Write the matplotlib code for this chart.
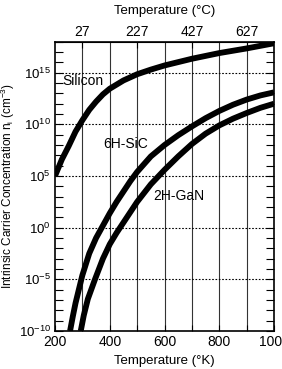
import matplotlib.pyplot as plt
import matplotlib.ticker as mticker
import numpy as np

plt.rcParams['font.family'] = ['Liberation Sans', 'DejaVu Sans']
plt.rcParams['mathtext.fontset'] = 'custom'
plt.rcParams['mathtext.rm'] = 'Liberation Sans'

# log10 of intrinsic carrier concentration
si_T = [200, 225, 250, 275, 300, 325, 350, 375, 400, 450, 500, 550, 600, 700, 800, 900, 1000]
si_log = [5.0, 6.6, 7.9, 9.3, 10.4, 11.4, 12.2, 12.9, 13.45, 14.25, 14.85, 15.3, 15.7,
          16.35, 16.9, 17.35, 17.85]

sic_T = [255, 265, 275, 287, 300, 325, 350, 375, 400, 425, 450, 475, 500, 550, 600,
         650, 700, 750, 800, 850, 900, 950, 1000]
sic_log = [-10.0, -8.6, -7.3, -6.0, -4.6, -2.5, -1.0, 0.2, 1.4, 2.5, 3.5, 4.5, 5.4, 6.9, 8.0,
           8.95, 9.8, 10.6, 11.3, 11.9, 12.4, 12.8, 13.1]

gan_T = [294, 305, 320, 346, 375, 400, 425, 450, 500, 550, 600, 650, 700, 750, 800,
         850, 900, 950, 1000]
gan_log = [-10.0, -8.5, -6.9, -5.0, -3.0, -1.6, -0.5, 0.5, 2.5, 4.2, 5.6, 6.9, 8.1, 9.1, 9.9,
           10.55, 11.1, 11.6, 12.0]

celsius_ticks = [27, 227, 427, 627]

fig = plt.figure(figsize=(2.82, 3.69), dpi=100)
ax = fig.add_axes([0.195, 0.103, 0.777, 0.784])

for T, lg in [(si_T, si_log), (sic_T, sic_log), (gan_T, gan_log)]:
    ax.plot(T, 10.0 ** np.array(lg), color='black', lw=4.2,
            solid_capstyle='butt', solid_joinstyle='round')

ax.set_yscale('log')
ax.set_xlim(200, 1000)
ax.set_ylim(1e-10, 1e18)

ax.set_xticks([200, 400, 600, 800, 1000], labels=['200', '400', '600', '800', '1000'])
ax.set_xticks(np.arange(300, 1000, 200), minor=True)

ax.set_yticks([10.0 ** p for p in range(-10, 16, 5)],
              labels=[r'$\mathregular{10^{%d}}$' % p for p in range(-10, 16, 5)])
ax.yaxis.set_minor_locator(mticker.LogLocator(base=10, subs=(1.0,), numticks=40))
ax.yaxis.set_minor_formatter(mticker.NullFormatter())

ax.tick_params(axis='both', which='both', direction='in', pad=3)
ax.tick_params(axis='x', labelsize=10)
ax.tick_params(axis='y', labelsize=9.5)
ax.tick_params(axis='y', which='both', length=6, width=0.8, left=True, right=True)
ax.tick_params(axis='x', which='both', length=4, width=0.8, top=False)

for T in range(300, 1000, 100):
    ax.axvline(T, color='#333333', lw=0.8, zorder=0)
for p in range(-5, 16, 5):
    ax.axhline(10.0 ** p, color='black', lw=0.8, ls=(0, (1.5, 1.5)), zorder=0)

for s in ax.spines.values():
    s.set_linewidth(1.2)

ax.set_xlabel('Temperature (°K)', fontsize=9.5, labelpad=4)
ax.set_ylabel(r'Intrinsic Carrier Concentration n$_{\mathregular{i}}$ (cm$^{\mathregular{-3}}$)',
              fontsize=8.5, labelpad=1)

top = ax.secondary_xaxis('top', functions=(lambda k: k - 273, lambda c: c + 273))
top.set_xticks(celsius_ticks, labels=[str(c) for c in celsius_ticks])
top.tick_params(direction='in', length=4, width=0.8, labelsize=10, pad=2)
top.set_xlabel('Temperature (°C)', fontsize=9.5, labelpad=8)

ax.text(226, 10 ** 14.15, 'Silicon', fontsize=10, ha='left', va='center')
ax.text(375, 10 ** 8.1, '6H-SiC', fontsize=10, ha='left', va='center')
ax.text(558, 10 ** 3.05, '2H-GaN', fontsize=10, ha='left', va='center')

fig.savefig('out.png', dpi=100)
